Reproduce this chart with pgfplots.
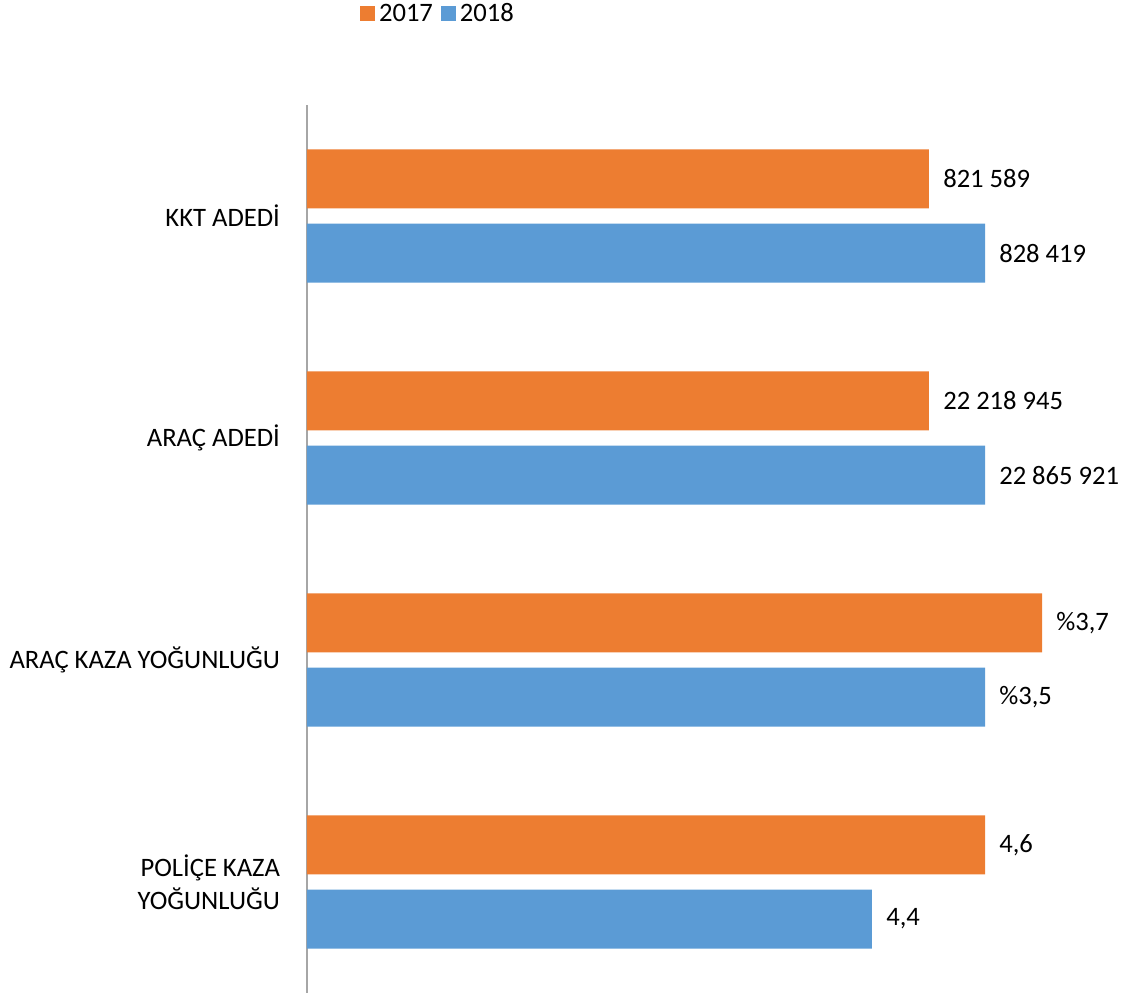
\documentclass[border=0pt]{standalone}
\usepackage{pgfplots}
\pgfplotsset{compat=1.18}
\usepackage{fontspec}
\setmainfont{Carlito}
\definecolor{orng}{HTML}{ED7D31}
\definecolor{blu}{HTML}{5B9BD5}
\begin{document}
\begin{tikzpicture}
\useasboundingbox (-153.5pt,-1.5pt) rectangle (414.5pt,496.5pt);
\begin{axis}[
  scale only axis, width=414.5pt, height=444pt,
  xmin=0, xmax=829, ymin=-0.5, ymax=3.5,
  xbar, bar width=0.266, clip=false,
  axis x line=none, axis y line*=left,
  y axis line style={draw=gray!70, line width=0.6pt, -},
  ytick={0,1,2,3}, major tick length=0pt,
  yticklabels={{POLİÇE KAZA\\YOĞUNLUĞU},{ARAÇ KAZA YOĞUNLUĞU},{ARAÇ ADEDİ},{KKT ADEDİ}},
  yticklabel style={align=right, font=\fontsize{13.3}{16.5}\selectfont, xshift=-10pt},
  point meta=explicit symbolic,
  nodes near coords,
  nodes near coords style={anchor=west, xshift=3.6pt, font=\fontsize{13.3}{16}\selectfont, text=black},
  legend style={at={(0.1592,1.1025)}, anchor=center, draw=none, legend columns=2,
    font=\fontsize{13.3}{16}\selectfont, inner sep=0pt,
    /tikz/every even column/.append style={column sep=2pt}},
  legend image code/.code={\fill[#1] (0pt,-3.75pt) rectangle (7.5pt,3.75pt);},
]
\addplot[fill=orng, draw=none, bar shift=0.167] coordinates {
 (622,3) [821 589]
 (622,2) [22 218 945]
 (735,1) [\%3,7]
 (678,0) [4,6]
};
\addplot[fill=blu, draw=none, bar shift=-0.167] coordinates {
 (678,3) [828 419]
 (678,2) [22 865 921]
 (678,1) [\%3,5]
 (565,0) [4,4]
};
\legend{2017,2018}
\end{axis}
\end{tikzpicture}
\end{document}
